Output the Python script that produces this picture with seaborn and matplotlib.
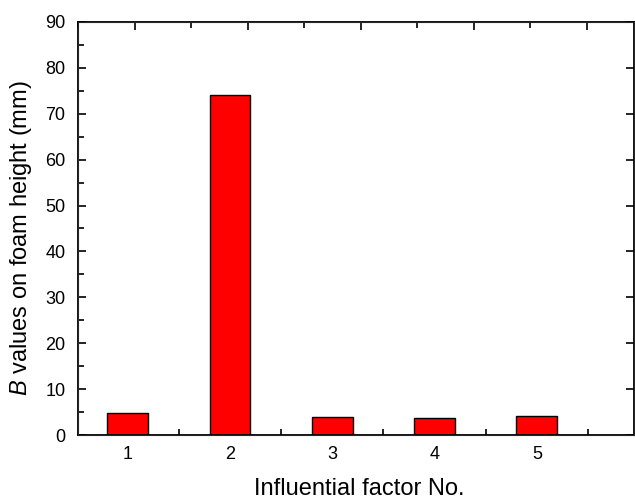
import numpy as np
import pandas as pd
import seaborn as sns
import matplotlib.pyplot as plt
from matplotlib.ticker import MultipleLocator, NullFormatter

# datos
factors = ["1", "2", "3", "4", "5"]
b_values = [4.7, 74.0, 3.9, 3.7, 4.2]

df = pd.DataFrame({"factor": factors, "B": b_values})

sns.set_style("ticks")
plt.rcParams['font.family'] = ['Liberation Sans', 'DejaVu Sans']
plt.rcParams['mathtext.fontset'] = 'custom'
plt.rcParams['mathtext.rm'] = 'Liberation Sans'
plt.rcParams['mathtext.it'] = 'Liberation Sans:italic'
plt.rcParams['text.color'] = 'black'
plt.rcParams['axes.labelcolor'] = 'black'
plt.rcParams['xtick.color'] = 'black'
plt.rcParams['ytick.color'] = 'black'

fig = plt.figure(figsize=(6.35, 5.01), dpi=100)
ax = fig.add_axes([78 / 635, 1 - 435 / 501, 556 / 635, 413 / 501])

sns.barplot(data=df, x="factor", y="B", color="red", edgecolor="black",
            linewidth=1, width=0.4, saturation=1, ax=ax, zorder=2)

ax.set_xlim(-0.486, 4.95)
ax.set_ylim(0, 90)
ax.yaxis.set_major_locator(MultipleLocator(10))
ax.yaxis.set_minor_locator(MultipleLocator(5))
ax.xaxis.set_minor_locator(MultipleLocator(0.5))
ax.xaxis.set_minor_formatter(NullFormatter())

ax.tick_params(axis="both", which="major", direction="in", length=6, width=1.2,
               labelsize=13, pad=8)
ax.tick_params(axis="both", which="minor", direction="in", length=4, width=1.2)
ax.tick_params(axis="y", which="major", right=True, pad=9)
ax.tick_params(axis="y", which="minor", right=False)

for s in ax.spines.values():
    s.set_linewidth(1.3)
    s.set_color("black")

# eje superior con su propia escala
top = ax.twiny()
top.set_xlim(0.5, 0.5 + 556 / 113)
top.xaxis.set_major_locator(MultipleLocator(1))
top.xaxis.set_minor_locator(MultipleLocator(0.5))
top.tick_params(axis="x", which="major", direction="in", length=6, width=1.2,
                labeltop=False, color="black")
top.tick_params(axis="x", which="minor", direction="in", length=4, width=1.2,
                color="black")

ax.set_xlabel("Influential factor No.", fontsize=17)
ax.set_ylabel("$B$ values on foam height (mm)", fontsize=17)
ax.xaxis.set_label_coords(0.505, -0.103)
ax.yaxis.set_label_coords(-0.079, 0.476)

fig.savefig("out.png", dpi=100)
